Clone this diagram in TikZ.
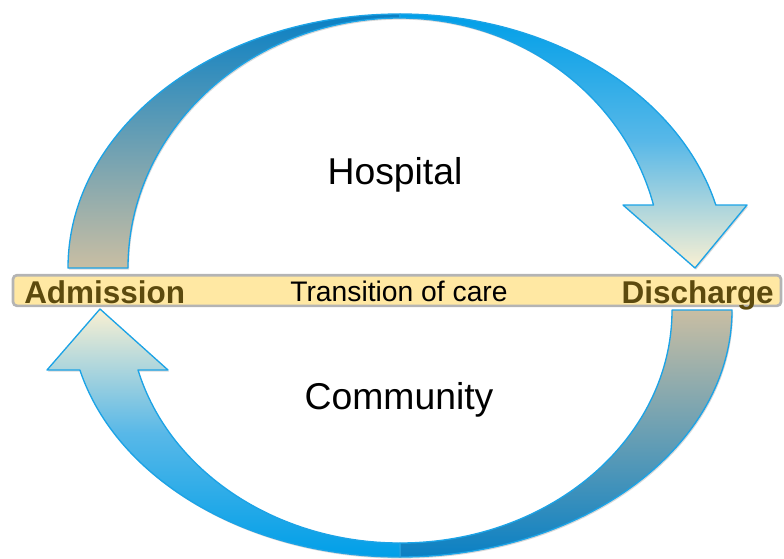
\documentclass[tikz,border=0pt]{standalone}
\usepackage{fontspec}
\setmainfont{Liberation Sans}
\usetikzlibrary{positioning,shadows}
\definecolor{brightblue}{HTML}{009FE8}
\definecolor{deepblue}{HTML}{0A80C4}
\definecolor{midblue}{HTML}{58B8E8}
\definecolor{cream}{HTML}{FAF0D2}
\definecolor{sandtan}{HTML}{C9BEA3}
\definecolor{edgeblue}{HTML}{1CA3E6}
\definecolor{bandfill}{HTML}{FFE8A3}
\definecolor{bandline}{HTML}{B4B4B4}
\definecolor{darkolive}{HTML}{5C4A0E}
\tikzset{
  ribbon/.style={draw=edgeblue,line width=1pt,line join=round,drop shadow={shadow xshift=0.8pt,shadow yshift=-1.2pt,opacity=0.3}},
  upperback/.style={ribbon,top color=deepblue,bottom color=sandtan},
  upperfront/.style={ribbon,top color=brightblue,bottom color=cream,middle color=midblue},
  lowerback/.style={ribbon,top color=sandtan,bottom color=deepblue},
  lowerfront/.style={ribbon,top color=cream,bottom color=brightblue,middle color=midblue},
  bandbox/.style={rectangle,rounded corners=3pt,draw=bandline,line width=2pt,fill=bandfill,minimum width=576pt,minimum height=23pt,inner sep=0pt},
  edgelabel/.style={font=\fontsize{23.6}{27}\selectfont\bfseries,text=darkolive,inner sep=0pt},
  bandlabel/.style={font=\fontsize{21.2}{25}\selectfont,inner sep=0pt},
  zonelabel/.style={font=\fontsize{28}{33}\selectfont,inner sep=0pt}
}

\begin{document}
\begin{tikzpicture}[x=0.75pt,y=0.75pt]
  \useasboundingbox (0,0) rectangle (784,558);
  \clip (0,0) rectangle (784,558);
  % upper arrow: rear half, then the half carrying the head
  \path[upperback] (68,290) arc[start angle=180,end angle=90,x radius=332,y radius=254]
    -- (400,540) arc[start angle=90,end angle=180,x radius=272,y radius=250] -- cycle;
  \path[upperfront] (400,544) arc[start angle=90,end angle=14.36,x radius=326,y radius=254]
    -- (747,353) -- (695,290) -- (623,353) -- (653.5,353)
    arc[start angle=14.6,end angle=90,x radius=262,y radius=250] -- cycle;
  % lower arrow
  \path[lowerback] (732,248) arc[start angle=0,end angle=-90,x radius=332,y radius=247]
    -- (400,15) arc[start angle=270,end angle=360,x radius=272,y radius=233] -- cycle;
  \path[lowerfront] (400,1) arc[start angle=270,end angle=194.06,x radius=330,y radius=247]
    -- (47,188) -- (100,249) -- (168,188) -- (138,188)
    arc[start angle=194.92,end angle=270,x radius=271,y radius=233] -- cycle;
  % transition band and labels
  \node[bandbox] (band) at (397,267.5) {};
  \node[edgelabel,anchor=base west] (admit) at (24,255) {Admission};
  \node[edgelabel,anchor=base east] (leave) at (774,255) {Discharge};
  \node[bandlabel,anchor=base] (trans) at (399,257) {Transition of care};
  \node[zonelabel,anchor=base] (hosp) at (395,374) {Hospital};
  \node[zonelabel,anchor=base] (comm) at (399,149) {Community};
\end{tikzpicture}
\end{document}
